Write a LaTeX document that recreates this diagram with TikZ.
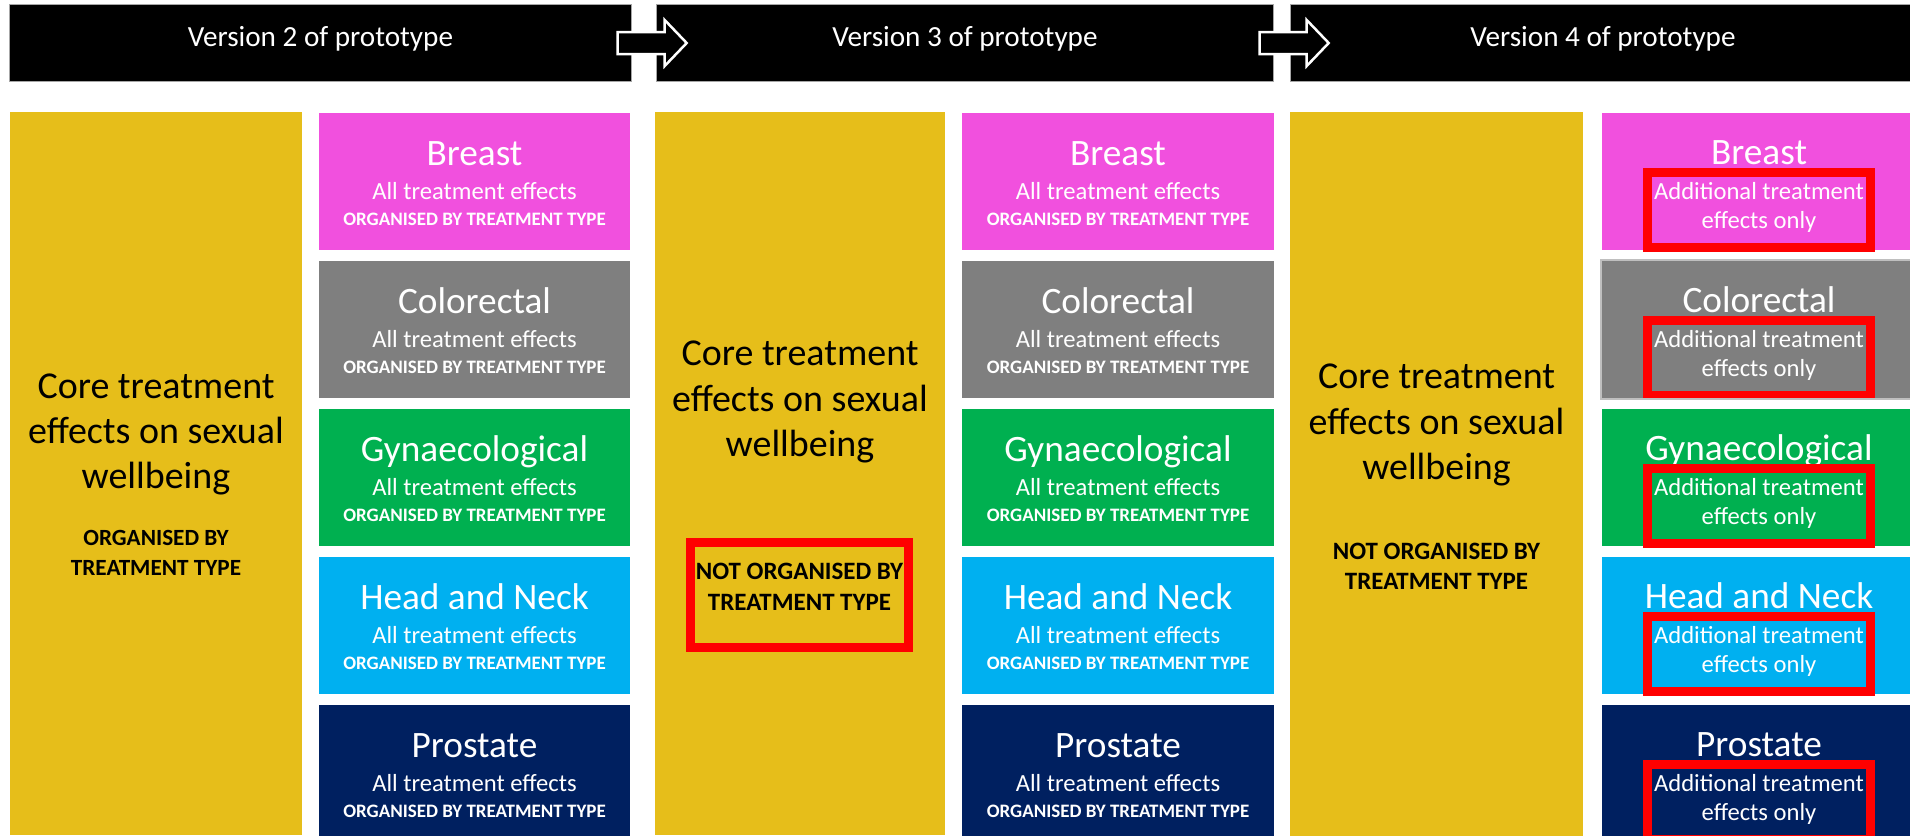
\documentclass[tikz,border=0pt]{standalone}
\usepackage{fontspec}
\setmainfont{Carlito}
\usetikzlibrary{positioning,calc}
\definecolor{coregold}{RGB}{230,190,26}
\definecolor{breastpink}{RGB}{241,80,222}
\definecolor{colorgrey}{RGB}{127,127,127}
\definecolor{gynaegreen}{RGB}{0,176,80}
\definecolor{hnblue}{RGB}{0,176,240}
\definecolor{prostnavy}{RGB}{0,32,96}
\definecolor{flagred}{RGB}{255,0,0}
\newcommand{\sitename}{\fontsize{10.6}{12}\selectfont}
\newcommand{\orgtag}{\fontsize{5.4}{6}\selectfont\bfseries}
\newcommand{\orgsmall}{\fontsize{6.6}{8}\selectfont\bfseries}
\newcommand{\orgmid}{\fontsize{7.1}{8.8}\selectfont\bfseries}

\begin{document}
\begin{tikzpicture}[x=0.01cm, y=-0.01cm, node distance=0.095cm,
  every node/.style={inner sep=0pt, align=center},
  header/.style={fill=black, draw=gray!70, line width=0.01cm, minimum width=#1,
    minimum height=0.76cm, text=white, font=\fontsize{8.3}{10}\selectfont,
    text height=0.06cm, text depth=0pt},
  protoarrow/.style={fill=black, draw=white, line width=0.025cm},
  corecol/.style={fill=coregold, minimum width=#1, minimum height=7.23cm,
    font=\fontsize{10.8}{12.8}\selectfont, text depth=0pt},
  sitebox/.style={minimum width=#1, minimum height=1.37cm, text=white,
    font=\fontsize{7}{7.5}\selectfont, text depth=0pt},
  flagbox/.style={draw=flagred, line width=0.09cm, minimum width=#1, text depth=0pt}]
  \fill[white] (0,0) rectangle (1910,835);
  \useasboundingbox (0,0) rectangle (1910,835);
  \clip (0,0) rectangle (1910,835);

  \node[header=6.21cm] (h1) at (320.5,43) {Version 2 of prototype};
  \node[header=6.16cm] (h2) at (965,43) {Version 3 of prototype};
  \node[header=6.24cm] (h3) at (1603,43) {Version 4 of prototype};
  \draw[protoarrow] ($(h1.east)+(-14,-11)$) -- ++(47,0) -- ++(0,-12) -- ++(22,23)
    -- ++(-22,23) -- ++(0,-12) -- ++(-47,0) -- cycle;
  \draw[protoarrow] ($(h2.east)+(-14,-11)$) -- ++(47,0) -- ++(0,-12) -- ++(22,23)
    -- ++(-22,23) -- ++(0,-12) -- ++(-47,0) -- cycle;

  \node[corecol=2.92cm, text height=2.03cm] (coreA) at (156,473.5)
    {Core treatment\\effects on sexual\\wellbeing\\[3.4pt]{\orgsmall ORGANISED BY}\\[-4.3pt]{\orgsmall TREATMENT TYPE}};
  \node[corecol=2.90cm, text height=0pt, text depth=0.35cm] (coreC) at (800,473.5)
    {Core treatment\\effects on sexual\\wellbeing};
  \node[flagbox=2.18cm, minimum height=1.05cm, font=\orgmid, text height=0.30cm] (flagC) at (799.5,595)
    {NOT ORGANISED BY\\TREATMENT TYPE};
  \node[corecol=2.93cm, text height=2.30cm] (coreE) at (1436.5,474)
    {Core treatment\\effects on sexual\\wellbeing\\[10pt]{\orgmid NOT ORGANISED BY}\\[-4.3pt]{\orgmid TREATMENT TYPE}};

  \foreach \c/\x in {b/474.5, d/1118, f/1759}
    \coordinate (\c0) at (\x,102.5);

  \foreach \c in {b,d}{
    \foreach \site/\shade [count=\i] in {Breast/breastpink, Colorectal/colorgrey,
        Gynaecological/gynaegreen, Head and Neck/hnblue, Prostate/prostnavy}{
      \pgfmathtruncatemacro{\j}{\i-1}
      \node[sitebox=3.11cm, fill=\shade, text height=0.89cm, below=of \c\j] (\c\i)
        {{\sitename\site}\\[2.1pt]All treatment effects\\{\orgtag ORGANISED BY TREATMENT TYPE}};
    }
  }

  \foreach \site/\shade [count=\i] in {Breast/breastpink, Colorectal/colorgrey,
      Gynaecological/gynaegreen, Head and Neck/hnblue, Prostate/prostnavy}{
    \pgfmathtruncatemacro{\j}{\i-1}
    \node[sitebox=3.14cm, fill=\shade, text height=0pt, text depth=0.33cm, below=of f\j] (f\i) {\sitename\site};
    \node[flagbox=2.23cm, minimum height=0.75cm, text=white, font=\fontsize{7}{8.25}\selectfont,
      text height=0.38cm] (flag\i) at ($(f\i.center)+(0,28.5)$) {Additional treatment\\effects only};
  }
  \draw[black!25, line width=0.02cm] (f2.north west) rectangle (f2.south east);
\end{tikzpicture}
\end{document}
